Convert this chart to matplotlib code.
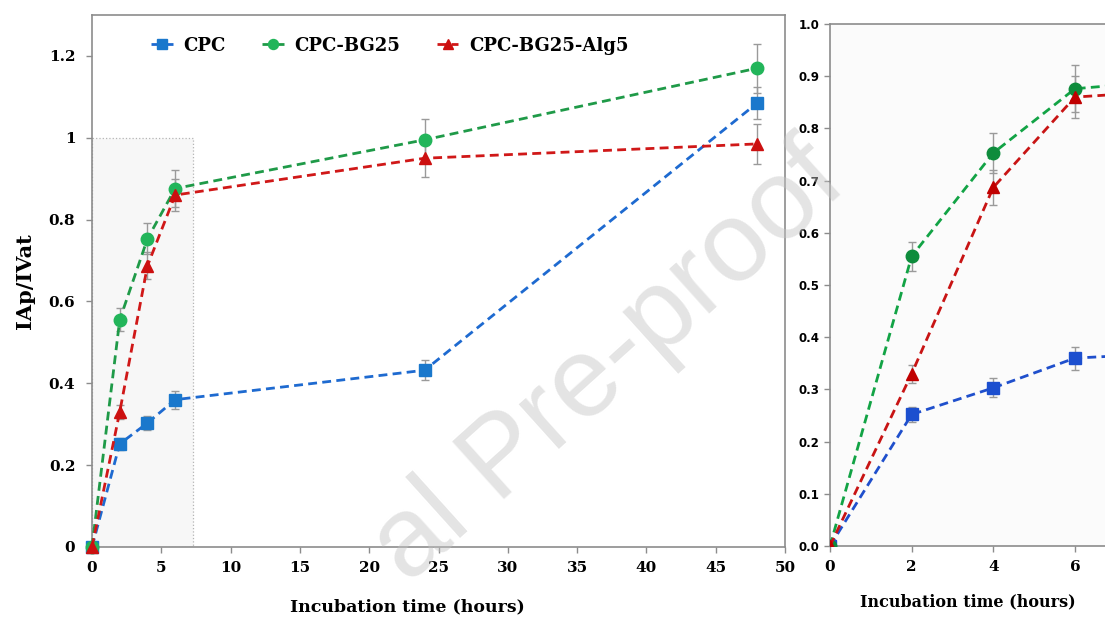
import matplotlib
matplotlib.use("Agg")
import matplotlib.pyplot as plt
from matplotlib.patches import Rectangle

# ---- data ----
hours = [0, 2, 4, 6, 24, 48]
cpc = [0.0, 0.252, 0.303, 0.360, 0.432, 1.085]
cpc_err = [0.0, 0.015, 0.018, 0.022, 0.025, 0.040]
bg25 = [0.0, 0.555, 0.753, 0.876, 0.995, 1.170]
bg25_err = [0.0, 0.028, 0.038, 0.045, 0.050, 0.060]
alg5 = [0.0, 0.330, 0.687, 0.860, 0.950, 0.985]
alg5_err = [0.0, 0.017, 0.033, 0.040, 0.045, 0.048]
labels = ["CPC", "CPC-BG25", "CPC-BG25-Alg5"]
main_xticks = [0, 5, 10, 15, 20, 25, 30, 35, 40, 45, 50]
main_yticks = [0, 0.2, 0.4, 0.6, 0.8, 1.0, 1.2]
main_ytick_labels = ["0", "0.2", "0.4", "0.6", "0.8", "1", "1.2"]
inset_xticks = [0, 2, 4, 6]
inset_yticks = [0.0, 0.1, 0.2, 0.3, 0.4, 0.5, 0.6, 0.7, 0.8, 0.9, 1.0]

SERIF = "DejaVu Serif"
SPINE = "#8c8c8c"

fig = plt.figure(figsize=(11.05, 6.23), dpi=100)

# ---------- main panel ----------
ax = fig.add_axes([92/1105, 1-547/623, (785-92)/1105, (547-15)/623])
ax.set_xlim(0, 50)
ax.set_ylim(0, 1.3)
ax.add_patch(Rectangle((0, 0), 7.3, 1.0, facecolor="#f7f7f7", edgecolor="#b5b5b5",
                       lw=0.9, ls=":", zorder=0.5))

series_main = [
    (cpc, cpc_err, "s", "#1e6ad0", "#1a78cc", 8.5),
    (bg25, bg25_err, "o", "#1f9a48", "#22b55a", 9),
    (alg5, alg5_err, "^", "#d01818", "#cc1010", 9),
]
handles = []
for (vals, errs, mk, lc, mc, ms), lab in zip(series_main, labels):
    ax.errorbar(hours, vals, yerr=errs, fmt="none", ecolor="#9a9a9a", elinewidth=1,
                capsize=3, capthick=1, zorder=2)
    ln, = ax.plot(hours, vals, ls=(0, (3.2, 1.9)), lw=2.0, color=lc, marker=mk, ms=ms,
                  mfc=mc, mec=mc, zorder=3, clip_on=False, label=lab)
    handles.append(ln)

for s in ax.spines.values():
    s.set_color(SPINE)
    s.set_linewidth(1.2)
ax.set_xticks(main_xticks)
ax.set_yticks(main_yticks)
ax.set_yticklabels(main_ytick_labels)
ax.tick_params(axis="both", direction="out", length=4, color=SPINE, width=1)
ax.tick_params(axis="x", pad=6)
ax.tick_params(axis="y", pad=8)
for t in ax.get_xticklabels() + ax.get_yticklabels():
    t.set_fontfamily(SERIF)
    t.set_fontweight("bold")
    t.set_fontsize(11)
ax.set_xlabel("Incubation time (hours)", fontfamily=SERIF, fontweight="bold",
              fontsize=12.5)
ax.xaxis.set_label_coords((407-92)/693, -(598-547)/532)
ax.set_ylabel("IAp/IVat", fontfamily=SERIF, fontweight="bold", fontsize=15)
ax.yaxis.set_label_coords(-(92-35)/693, 0.5)

leg = ax.legend(handles=handles, loc="upper left", bbox_to_anchor=(0.062, 0.99), ncol=3,
                frameon=False, handlelength=1.2, handletextpad=0.6, columnspacing=2.0,
                markerscale=0.8, prop={"family": SERIF, "weight": "bold", "size": 13})

# ---------- inset panel ----------
ax2 = fig.add_axes([830/1105, 1-546/623, (1105-830)/1105, (546-24)/623])
ax2.set_facecolor("#fbfbfb")
ax2.set_xlim(0, 6.735)
ax2.set_ylim(0, 1.0)
series_inset = [
    (cpc, cpc_err, "s", "#1f4fcc", "#1c4fcf", 8.5),
    (bg25, bg25_err, "o", "#12a345", "#0e8c3c", 9),
    (alg5, alg5_err, "^", "#c81414", "#c00000", 9),
]
for vals, errs, mk, lc, mc, ms in series_inset:
    ax2.errorbar(hours, vals, yerr=errs, fmt="none", ecolor="#9a9a9a", elinewidth=1,
                 capsize=3, capthick=1, zorder=2)
    ax2.plot(hours, vals, ls=(0, (3.2, 1.9)), lw=2.0, color=lc, marker=mk, ms=ms,
             mfc=mc, mec=mc, zorder=3)
ax2.spines["right"].set_visible(False)
for k in ["left", "top", "bottom"]:
    ax2.spines[k].set_color(SPINE)
    ax2.spines[k].set_linewidth(1.2)
ax2.set_xticks(inset_xticks)
ax2.set_yticks(inset_yticks)
ax2.set_yticklabels([f"{v:.1f}" for v in inset_yticks])
ax2.tick_params(axis="both", direction="out", length=4, color=SPINE, width=1)
ax2.tick_params(axis="x", pad=6)
for t in ax2.get_xticklabels():
    t.set_fontfamily(SERIF)
    t.set_fontweight("bold")
    t.set_fontsize(11)
for t in ax2.get_yticklabels():
    t.set_fontfamily("DejaVu Sans")
    t.set_fontweight("bold")
    t.set_fontsize(8.5)
ax2.set_xlabel("Incubation time (hours)", fontfamily=SERIF, fontweight="bold",
               fontsize=11.5, labelpad=14)

# watermark (visible part of the page watermark), light and translucent
fig.text(0.552, 0.415, "al Pre-proof", rotation=42, rotation_mode="anchor",
         ha="center", va="center", fontsize=82, color="#c4c4c4", alpha=0.45,
         zorder=5, fontfamily="Liberation Sans")

fig.savefig("out.png", dpi=100)
